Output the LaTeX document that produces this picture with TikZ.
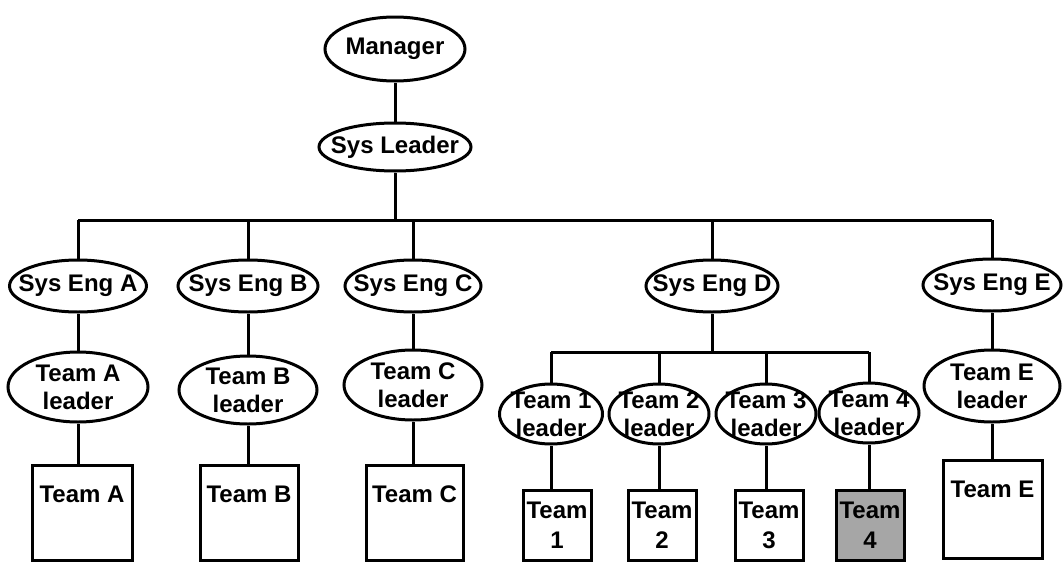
\documentclass[tikz,border=0pt]{standalone}
\usepackage{fontspec}
\setmainfont{Liberation Sans}
\usetikzlibrary{shapes.geometric}
\begin{document}
\begin{tikzpicture}[x=1pt,y=-1pt,
  line width=3pt,
  every label/.style={align=center,inner sep=0pt,font=\bfseries\fontsize{24}{28}\selectfont},
  ell/.style={ellipse,draw,inner sep=0pt},
  unit/.style={rectangle,draw,inner sep=0pt,align=center,
    font=\bfseries\fontsize{24}{30}\selectfont},
  link/.style={line width=3pt}]
\useasboundingbox (0,0) rectangle (1063,562);
\fill[white] (0,0) rectangle (1063,562);

% top of the hierarchy
\node[ell,minimum width=140,minimum height=64,label=center:Manager] (m) at (395,49) {};
\node[ell,minimum width=152,minimum height=48,label=center:Sys Leader] (sl) at (395,147) {};

% system engineers
\node[ell,minimum width=137,minimum height=52,label=center:Sys Eng A] (seA) at (78,286) {};
\node[ell,minimum width=140,minimum height=52,label=center:Sys Eng B] (seB) at (248,286) {};
\node[ell,minimum width=136,minimum height=52,label=center:Sys Eng C] (seC) at (413,286) {};
\node[ell,minimum width=132,minimum height=52,label=center:Sys Eng D] (seD) at (712,286) {};
\node[ell,minimum width=138,minimum height=52,label=center:Sys Eng E] (seE) at (992,285) {};

% team leaders
\node[ell,minimum width=140,minimum height=70,label={center:Team A\\leader}] (tlA) at (78,387) {};
\node[ell,minimum width=138,minimum height=68,label={center:Team B\\leader}] (tlB) at (248,390) {};
\node[ell,minimum width=138,minimum height=70,label={center:Team C\\leader}] (tlC) at (413,385) {};
\node[ell,minimum width=136,minimum height=72,label={center:Team E\\leader}] (tlE) at (992,386) {};
\node[ell,minimum width=103,minimum height=60,label={center:Team 1\\leader}] (tl1) at (551,414) {};
\node[ell,minimum width=100,minimum height=60,label={center:Team 2\\leader}] (tl2) at (659,414) {};
\node[ell,minimum width=100,minimum height=60,label={center:Team 3\\leader}] (tl3) at (766,414) {};
\node[ell,minimum width=100,minimum height=60,label={center:Team 4\\leader}] (tl4) at (869,413) {};

% teams
\node[unit,minimum width=100,minimum height=95,label={[yshift=18]center:Team A}] (tA) at (82,512.5) {};
\node[unit,minimum width=98,minimum height=95,label={[yshift=18]center:Team B}] (tB) at (249,512.5) {};
\node[unit,minimum width=97,minimum height=95,label={[yshift=18]center:Team C}] (tC) at (414.5,512.5) {};
\node[unit,minimum width=99,minimum height=98,label={[yshift=20]center:Team E}] (tE) at (992.5,509) {};
\node[unit,minimum width=68,minimum height=70] (t1) at (557,525) {Team\\1};
\node[unit,minimum width=68,minimum height=70] (t2) at (662,525) {Team\\2};
\node[unit,minimum width=68,minimum height=70] (t3) at (769,525) {Team\\3};
\node[unit,minimum width=68,minimum height=70,fill=black!35] (t4) at (870,525) {Team\\4};

% buses
\coordinate (busL) at (78,220);
\coordinate (busR) at (992,220);
\coordinate (sub) at (0,352);

\draw[link] (m.south) -- (sl.north);
\draw[link] (sl.south) -- (sl.south |- busL);
\draw[link] (busL) -- (busR);
\foreach \n in {seA,seB,seC,seD,seE}
  \draw[link] (\n.north) -- (\n.north |- busL);
\foreach \a/\b/\c in {seA/tlA/tA,seB/tlB/tB,seC/tlC/tC,seE/tlE/tE}{
  \draw[link] (\a.south) -- (\b.north);
  \draw[link] (\b.south) -- (\b.south |- \c.north);
}
\draw[link] (seD.south) -- (seD.south |- sub);
\draw[link] (tl1.north |- sub) -- (tl4.north |- sub);
\foreach \b/\c in {tl1/t1,tl2/t2,tl3/t3,tl4/t4}{
  \draw[link] (\b.north) -- (\b.north |- sub);
  \draw[link] (\b.south) -- (\b.south |- \c.north);
}
\end{tikzpicture}
\end{document}
